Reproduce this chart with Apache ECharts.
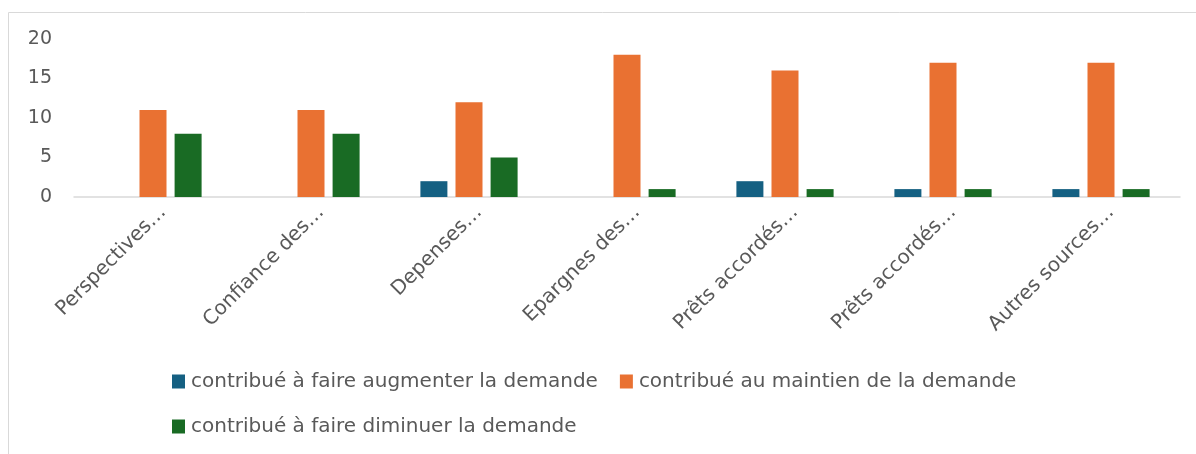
<!DOCTYPE html>
<html>
<head>
<meta charset="utf-8">
<script src="https://cdn.jsdelivr.net/npm/echarts@6/dist/echarts.min.js"></script>
<style>
html,body{margin:0;padding:0;background:#fff;}
#c{width:1196px;height:454px;}
</style>
</head>
<body>
<div id="c"></div>
<script>
const categories = ["Perspectives…", "Confiance des…", "Depenses…", "Epargnes des…", "Prêts accordés…", "Prêts accordés…", "Autres sources…"];
const seriesNames = ["contribué à faire augmenter la demande", "contribué au maintien de la demande", "contribué à faire diminuer la demande"];
const augmenter = [0, 0, 2, 0, 2, 1, 1];
const maintien = [11, 11, 12, 18, 16, 17, 17];
const diminuer = [8, 8, 5, 1, 1, 1, 1];
const yTicks = [0, 5, 10, 15, 20];

const colors = ["#156082", "#E97132", "#196B24"];
const font = "'DejaVu Sans', sans-serif";
const chart = echarts.init(document.getElementById('c'), null, {renderer: 'canvas'});
const mk = (name, data, color) => ({
  name, type: 'bar', data,
  barWidth: 27, barGap: '30%',
  itemStyle: {color, borderWidth: 0},
  emphasis: {disabled: true}
});
chart.setOption({
  animation: false,
  textStyle: {fontFamily: font},
  graphic: [{
    type: 'rect', silent: true,
    shape: {x: 8.5, y: 12.5, width: 1300, height: 600},
    style: {fill: 'none', stroke: '#d9d9d9', lineWidth: 1}
  }],
  grid: {left: 74, right: 16, top: 39, bottom: 257, containLabel: false},
  xAxis: {
    type: 'category', data: categories,
    axisLine: {lineStyle: {color: '#d9d9d9', width: 1.5}},
    axisTick: {show: false},
    axisLabel: {rotate: 45, interval: 0, margin: 22, padding: [0, -14, 0, 0], color: '#595959', fontSize: 20, fontFamily: font}
  },
  yAxis: {
    type: 'value', min: yTicks[0], max: yTicks[yTicks.length - 1], interval: 5,
    splitLine: {show: false},
    axisLine: {show: false}, axisTick: {show: false},
    axisLabel: {margin: 22, color: '#595959', fontSize: 19, fontFamily: font}
  },
  legend: {
    data: seriesNames,
    left: 172, top: 370, width: 880, padding: 0,
    orient: 'horizontal',
    itemWidth: 13, itemHeight: 14, itemGap: 22,
    icon: 'rect',
    textStyle: {color: '#595959', fontSize: 20, fontFamily: font, lineHeight: 23, padding: [0, 0, 0, 1]}
  },
  series: [
    mk(seriesNames[0], augmenter, colors[0]),
    mk(seriesNames[1], maintien, colors[1]),
    mk(seriesNames[2], diminuer, colors[2])
  ]
});
</script>
</body>
</html>
